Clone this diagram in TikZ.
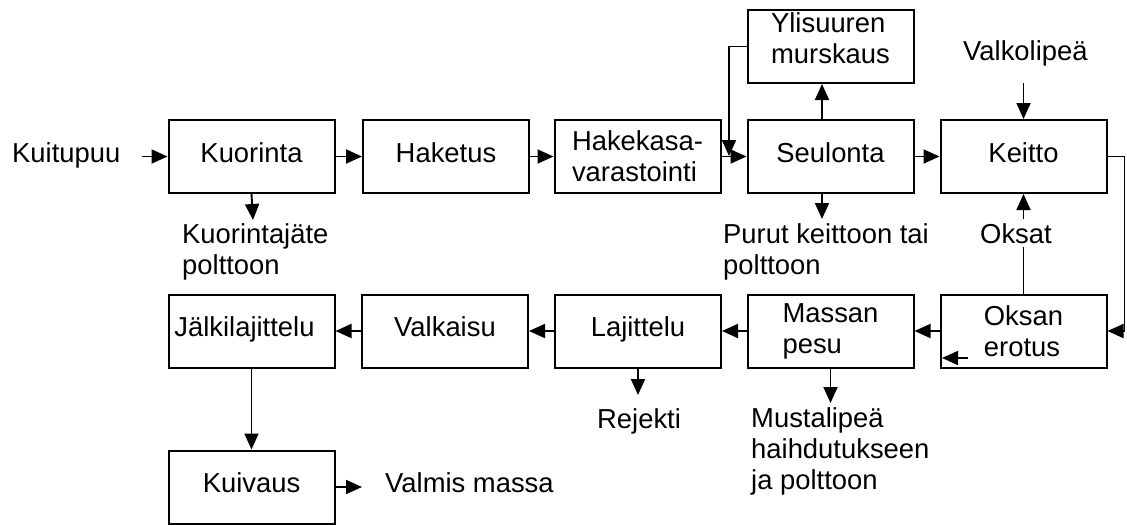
\documentclass[tikz,border=0pt]{standalone}
\usepackage{fontspec}
\setmainfont{Liberation Sans}
\usetikzlibrary{arrows.meta}
\begin{document}
\begin{tikzpicture}[x=1pt,y=-1pt,
  font=\fontsize{27.4}{31}\selectfont,
  box/.style={draw,line width=2pt,minimum width=166pt,minimum height=73pt,inner sep=0pt},
  oneline/.style={text height=20pt,text depth=9pt},
  arr/.style={line width=1.9pt,-{Triangle[length=16pt,width=14pt]}},
  lab/.style={inner sep=0pt,anchor=base west,align=left},
  mlab/.style={inner sep=0pt,anchor=north west,align=left},
]
\useasboundingbox (0,0) rectangle (1127,525);
% top row
\node[box,oneline] (kuor) at (251.5,156.5) {Kuorinta};
\node[box,oneline] (hak)  at (446,156.5) {Haketus};
\node[box,align=left] (hks) at (637.5,156.5) {Hakekasa-\\varastointi};
\node[box,oneline] (seul) at (830.5,156.5) {Seulonta};
\node[box,oneline] (keit) at (1023.5,156.5) {Keitto};
\node[box,align=left,text depth=17.6pt] (ylis) at (830.5,46.5) {Ylisuuren\\murskaus};
% bottom row
\node[box,oneline] (jalk) at (251.5,331) {\hspace*{-14pt}Jälkilajittelu};
\node[box,oneline] (valk) at (445,331) {Valkaisu};
\node[box,oneline] (laj)  at (638,331) {Lajittelu};
\node[box,align=left] (mas) at (830.5,331) {Massan\\pesu};
\node[box,align=left] (oks) at (1023.5,331) {Oksan\\erotus};
\node[box,oneline] (kuiv) at (251.5,487) {Kuivaus};
% free labels
\node[lab] (kuit) at (12,162) {Kuitupuu};
\node[mlab] (kjat) at (182,223) {Kuorintajäte\\polttoon};
\node[mlab] (purut) at (723,223) {Purut keittoon tai\\polttoon};
\node[lab] (valkl) at (963,60) {Valkolipeä};
\node[lab] (rej) at (597,428) {Rejekti};
\node[mlab] (must) at (751,407) {Mustalipeä\\haihdutukseen\\ja polttoon};
\node[lab] (valm) at (385,492) {Valmis massa};
% free connector ends
\coordinate (kin) at (142,156.5);
\coordinate (kout) at (253,220);
\coordinate (fb) at (729,156);
\coordinate (pout) at (822,219);
\coordinate (vin) at (1023.5,83);
\coordinate (sa1) at (968,358);
\coordinate (sa2) at (942,358);
\coordinate (mout) at (830.5,403);
\coordinate (rout) at (638,395);
\coordinate (vout) at (362,487);
% connectors
\draw[arr] (kin) -- (kuor.west);
\draw[arr] (kuor.east) -- (hak.west);
\draw[arr] (hak.east) -- (hks.west);
\draw[arr] (hks.east) -- (seul.west);
\draw[arr] (ylis.west) -| (fb);
\draw[arr] ([xshift=-8.5pt]seul.north) -- ([xshift=-8.5pt]ylis.south);
\draw[arr] ([xshift=-8.5pt]seul.south) -- (pout);
\draw[arr] (seul.east) -- (keit.west);
\draw[arr] (vin) -- (keit.north);
\draw[arr] (keit.east) -- ++(17,0) |- (oks.east);
\draw[arr] (oks.north) -- (keit.south);
\node[lab,fill=white,inner ysep=4pt] (oksat) at (980,243) {Oksat};
\draw[arr] (oks.west) -- (mas.east);
\draw[arr] (sa1) -- (sa2);
\draw[arr] (mas.west) -- (laj.east);
\draw[arr] (mas.south) -- (mout);
\draw[arr] (laj.west) -- (valk.east);
\draw[arr] (laj.south) -- (rout);
\draw[arr] (valk.west) -- (jalk.east);
\draw[arr] (jalk.south) -- (kuiv.north);
\draw[arr] (kuiv.east) -- (vout);
\draw[arr] (kuor.south) -- (kout);
\end{tikzpicture}
\end{document}
